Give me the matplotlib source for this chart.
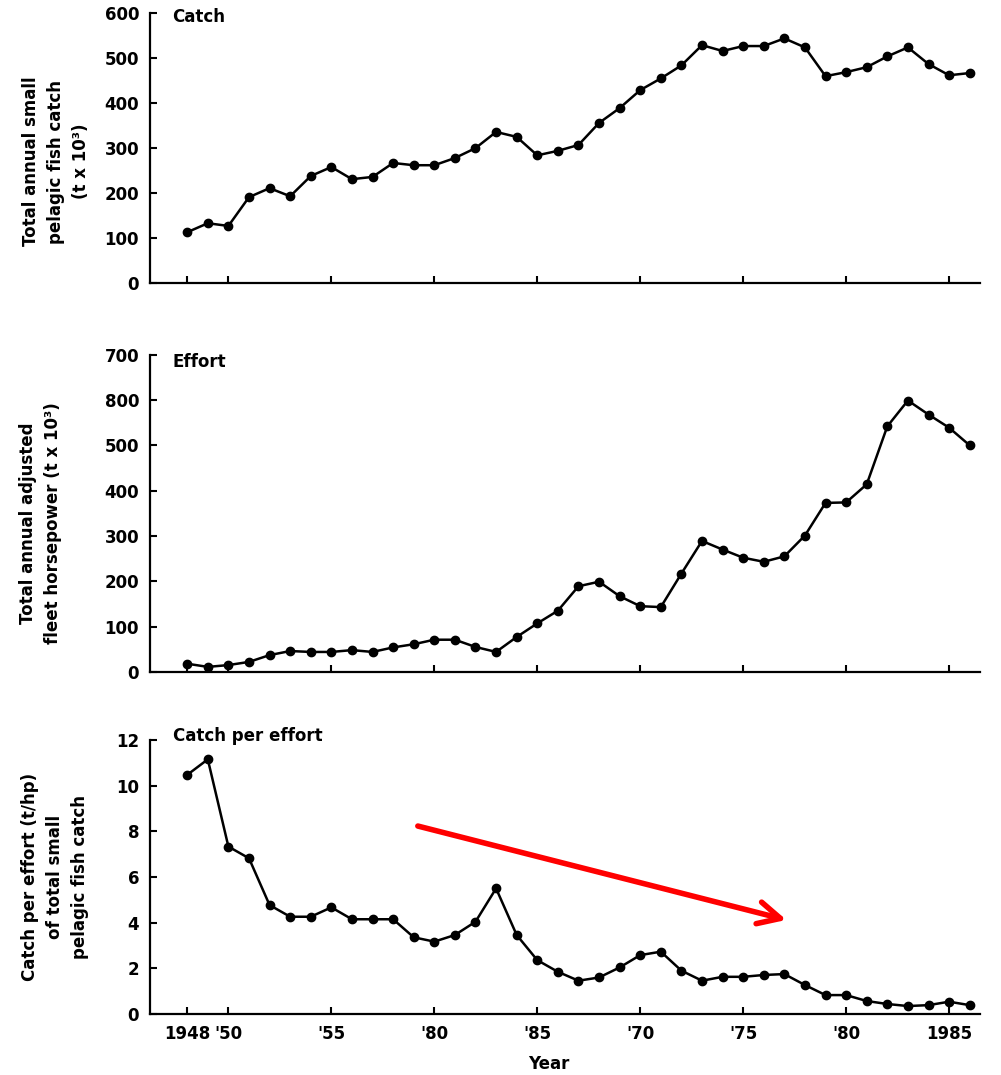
import numpy as np
import matplotlib.pyplot as plt

plt.rcParams['font.family'] = ['DejaVu Sans']
plt.rcParams['font.weight'] = 'bold'

# values, one per year 1948..1986
years = list(range(1948, 1987))
catch = [113, 133, 127, 191, 211, 193, 238, 258, 231, 236, 267, 262, 262, 278, 300, 336,
         325, 284, 294, 307, 356, 389, 429, 455, 484, 529, 516, 527, 527, 544, 524, 460,
         469, 480, 504, 524, 487, 462, 467]
effort = [18, 11, 15, 22, 37, 46, 44, 44, 48, 44, 54, 61, 71, 71, 55, 44,
          77, 107, 135, 189, 199, 167, 145, 143, 217, 289, 270, 252, 243, 255, 301, 373,
          374, 414, 542, 599, 568, 539, 500]
cpue = [10.47, 11.15, 7.33, 6.82, 4.77, 4.26, 4.26, 4.67, 4.15, 4.15, 4.15, 3.36, 3.17, 3.46, 4.04, 5.5,
        3.46, 2.36, 1.85, 1.46, 1.6, 2.04, 2.58, 2.73, 1.9, 1.46, 1.63, 1.63, 1.71, 1.75, 1.27, 0.83,
        0.83, 0.57, 0.44, 0.35, 0.39, 0.54, 0.39]

xticks = [1948, 1950, 1955, 1960, 1965, 1970, 1975, 1980, 1985]
xtick_labels = ['1948', "'50", "'55", "'80", "'85", "'70", "'75", "'80", '1985']

catch_ticks = [0, 100, 200, 300, 400, 500, 600]
effort_ticks = [0, 100, 200, 300, 400, 500, 600, 700]
effort_tick_labels = ['0', '100', '200', '300', '400', '500', '800', '700']
cpue_ticks = [0, 2, 4, 6, 8, 10, 12]

fig = plt.figure(figsize=(10.01, 10.75), dpi=100)

ax1 = fig.add_axes([0.15, 0.7367, 0.829, 0.251])
ax2 = fig.add_axes([0.15, 0.375, 0.829, 0.295])
ax3 = fig.add_axes([0.15, 0.0567, 0.829, 0.255])


def style(ax):
    for s in ['top', 'right']:
        ax.spines[s].set_visible(False)
    for s in ['left', 'bottom']:
        ax.spines[s].set_linewidth(1.6)
    ax.set_xlim(1946.2, 1986.5)
    ax.set_xticks(xticks)
    ax.tick_params(direction='in', length=5, width=1.5, labelsize=12)
    ax.tick_params(axis='y', pad=8)


style(ax1)
ax1.plot(years, catch, color='black', lw=1.8, marker='o', ms=6)
ax1.set_ylim(0, 600)
ax1.set_yticks(catch_ticks)
ax1.set_xticklabels([])
ax1.set_ylabel('Total annual small\npelagic fish catch\n(t x 10³)', fontsize=12,
               fontweight='bold', linespacing=1.5)
ax1.yaxis.set_label_coords(-0.072, 0.45)
ax1.text(0.027, 0.985, 'Catch', transform=ax1.transAxes, fontsize=12,
         fontweight='bold', va='center', ha='left')

style(ax2)
ax2.plot(years, effort, color='black', lw=1.8, marker='o', ms=6)
ax2.set_ylim(0, 700)
ax2.set_yticks(effort_ticks)
ax2.set_yticklabels(effort_tick_labels)
ax2.set_xticklabels([])
ax2.set_ylabel('Total annual adjusted\nfleet horsepower (t x 10³)', fontsize=12,
               fontweight='bold', linespacing=1.5)
ax2.yaxis.set_label_coords(-0.106, 0.47)
ax2.text(0.027, 0.978, 'Effort', transform=ax2.transAxes, fontsize=12,
         fontweight='bold', va='center', ha='left')

style(ax3)
ax3.plot(years, cpue, color='black', lw=1.8, marker='o', ms=6)
ax3.set_ylim(0, 12)
ax3.set_yticks(cpue_ticks)
ax3.set_xticklabels(xtick_labels)
ax3.tick_params(axis='x', pad=8)
ax3.set_ylabel('Catch per effort (t/hp)\nof total small\npelagic fish catch', fontsize=12,
               fontweight='bold', linespacing=1.5)
ax3.yaxis.set_label_coords(-0.074, 0.5)
ax3.set_xlabel('Year', fontsize=12, fontweight='bold')
ax3.xaxis.set_label_coords(0.48, -0.15)
ax3.text(0.027, 1.015, 'Catch per effort', transform=ax3.transAxes, fontsize=12,
         fontweight='bold', va='center', ha='left')

# red trend arrow
ax3.annotate('', xy=(1977.1, 4.12), xytext=(1959.2, 8.23),
             arrowprops=dict(arrowstyle='->,head_length=1.6,head_width=0.8',
                             color='#ff0000', lw=4, shrinkA=0, shrinkB=0,
                             capstyle='round', joinstyle='round'))

fig.savefig('out.png', dpi=100)
